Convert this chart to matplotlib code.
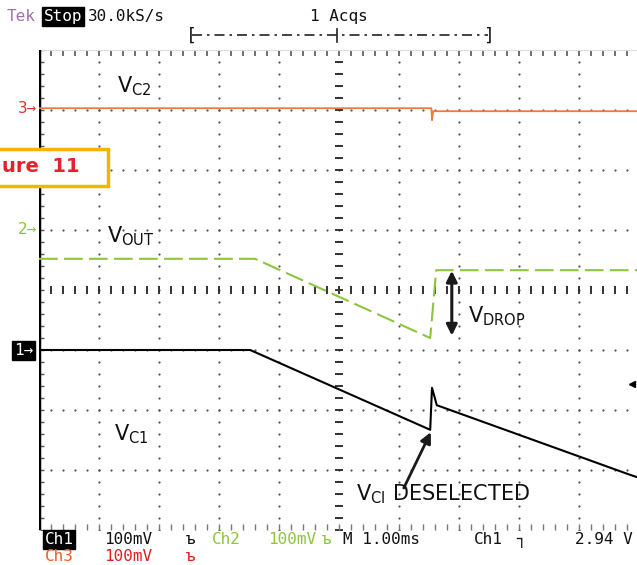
import matplotlib
matplotlib.use("Agg")
import matplotlib.pyplot as plt
import numpy as np

W, H = 637, 565

# traces in divisions (x: 0..10 div, y: -4..4 div)
ch3_t = [0.0, 6.54, 6.55, 6.57, 10.0]
ch3_v = [3.03, 3.03, 2.83, 2.98, 2.98]

ch2_t = [0.0, 3.60, 6.52, 6.62, 10.0]
ch2_v = [0.52, 0.52, -0.80, 0.33, 0.33]

ch1_t = [0.0, 3.52, 6.52, 6.55, 6.63, 9.85, 10.0]
ch1_v = [-1.0, -1.0, -2.33, -1.63, -1.92, -3.08, -3.13]

trig_level = -1.57

status_row1 = ["100mV", "Ch2", "100mV", "M 1.00ms", "Ch1", "2.94 V"]
status_row2 = ["Ch3", "100mV"]

plt.rcParams['font.family'] = ['Liberation Sans Narrow', 'DejaVu Sans']

fig = plt.figure(figsize=(W / 100, H / 100), dpi=100)
ax = fig.add_axes([39 / W, 35 / H, 600 / W, 480 / H])
ax.set_xlim(0, 10)
ax.set_ylim(-4, 4)
ax.axis('off')


def px(x, y):
    return x / W, 1 - y / H


minor_x = np.arange(0, 10.01, 0.2)
minor_y = np.arange(-4, 4.01, 0.2)

# graticule
for xg in range(1, 10):
    if xg == 5:
        continue
    ax.plot([xg] * len(minor_y), minor_y, ls='none', marker='o', ms=1.6,
            color='#555555', mew=0)
for yg in range(-3, 4):
    if yg == 0:
        continue
    ax.plot(minor_x, [yg] * len(minor_x), ls='none', marker='o', ms=1.6,
            color='#555555', mew=0)
ax.plot([5] * len(minor_y), minor_y, ls='none', marker='_', ms=6,
        color='#333333', mew=1.4)
ax.plot(minor_x, [0] * len(minor_x), ls='none', marker='|', ms=6,
        color='#333333', mew=1.4)
ax.plot(minor_x, [3.95] * len(minor_x), ls='none', marker='|', ms=4,
        color='#555555', mew=1.2)
ax.plot(minor_x, [-3.95] * len(minor_x), ls='none', marker='|', ms=4,
        color='#777777', mew=1.0)
ax.plot(minor_y * 0 + 0.05, minor_y, ls='none', marker='_', ms=3,
        color='#555555', mew=1.0)
ax.plot([0, 10], [4, 4], color='#dddddd', lw=0.8)
ax.plot([0, 10], [-4, -4], color='#dddddd', lw=0.8)
ax.plot([0, 0], [-4, 4], color='black', lw=2.5)

# traces
ax.plot(ch3_t, ch3_v, color='#f07a3a', lw=1.3)
ax.plot(ch2_t, ch2_v, color='#8cc63f', lw=1.5, ls=(0, (9, 3)))
ax.plot(ch1_t, ch1_v, color='black', lw=1.5)
ax.plot([9.88], [trig_level], marker='<', ms=5, color='black', clip_on=False)

# arrows
ax.annotate('', xy=(6.88, -0.76), xytext=(6.88, 0.32),
            arrowprops=dict(arrowstyle='<|-|>', color='#1a1a1a', lw=2.2,
                            mutation_scale=16, shrinkA=0, shrinkB=0))
ax.annotate('', xy=(6.53, -2.37), xytext=(6.08, -3.30),
            arrowprops=dict(arrowstyle='-|>', color='#1a1a1a', lw=2.0,
                            mutation_scale=16, shrinkA=0, shrinkB=0))

# signal labels
lab = dict(fontsize=15, color='#111111', va='baseline')
fig.text(*px(117, 92), r'$\mathregular{V_{C2}}$', **lab)
fig.text(*px(107, 242), r'$\mathregular{V_{OUT}}$', **lab)
fig.text(*px(468, 322), r'$\mathregular{V_{DROP}}$', **lab)
fig.text(*px(114, 440), r'$\mathregular{V_{C1}}$', **lab)
fig.text(*px(356, 500), r'$\mathregular{V_{CI}}$ DESELECTED', **lab)

# figure tag (the left part is cut off in the reference)
fig.patches.append(plt.Rectangle(px(-5, 186), 113 / W, 37 / H,
                                 transform=fig.transFigure, fill=True,
                                 facecolor='white', edgecolor='#f5b400',
                                 lw=2.5))
fig.text(*px(2, 167), 'ure  11', ha='left', va='center', fontsize=14,
         fontweight='bold', color='#e8202a', family='DejaVu Sans')

mono = dict(family='DejaVu Sans Mono', fontsize=11.5, va='baseline')

# channel markers on the left
fig.text(*px(18, 113), '3\u2192', color='#e83030', **mono)
fig.text(*px(18, 234), '2\u2192', color='#8cc63f', **mono)
fig.text(*px(14, 355), '1\u2192', color='white',
         bbox=dict(boxstyle='square,pad=0.12', fc='black', ec='black'), **mono)

# header
fig.text(*px(7, 21), 'Tek', color='#a070a8', **mono)
fig.text(*px(44, 21), 'Stop', color='white',
         bbox=dict(boxstyle='square,pad=0.1', fc='black', ec='black'), **mono)
fig.text(*px(88, 21), '30.0kS/s', color='#111111', **mono)
fig.text(*px(310, 21), '1 Acqs', color='#111111', **mono)
fig.lines.append(plt.Line2D([192 / W, 488 / W], [1 - 35 / H, 1 - 35 / H],
                            transform=fig.transFigure, color='#222222',
                            lw=1.2, ls=(0, (6, 3, 1.5, 3))))
fig.text(*px(186, 41), '[', color='#111111', fontsize=13,
         family='DejaVu Sans Mono', va='baseline')
fig.text(*px(484, 41), ']', color='#111111', fontsize=13,
         family='DejaVu Sans Mono', va='baseline')
fig.lines.append(plt.Line2D([337 / W, 337 / W], [1 - 29 / H, 1 - 42 / H],
                            transform=fig.transFigure, color='#222222', lw=1.2))

# status line
fig.text(*px(45, 544), 'Ch1', color='white',
         bbox=dict(boxstyle='square,pad=0.1', fc='black', ec='black'), **mono)
fig.text(*px(104, 544), status_row1[0], color='#111111', **mono)
fig.text(*px(186, 544), '\u044a', color='#111111', **mono)
fig.text(*px(212, 544), status_row1[1], color='#8cc63f', **mono)
fig.text(*px(268, 544), status_row1[2], color='#8cc63f', **mono)
fig.text(*px(322, 544), '\u044a', color='#8cc63f', **mono)
fig.text(*px(343, 544), status_row1[3], color='#111111', **mono)
fig.text(*px(474, 544), status_row1[4], color='#111111', **mono)
fig.text(*px(516, 544), '\u2510', color='#111111', **mono)
fig.text(*px(575, 544), status_row1[5], color='#111111', **mono)
fig.text(*px(45, 561), status_row2[0], color='#f05a28', **mono)
fig.text(*px(104, 561), status_row2[1], color='#e02020', **mono)
fig.text(*px(186, 561), '\u044a', color='#e02020', **mono)

fig.savefig('out.png', dpi=100)
